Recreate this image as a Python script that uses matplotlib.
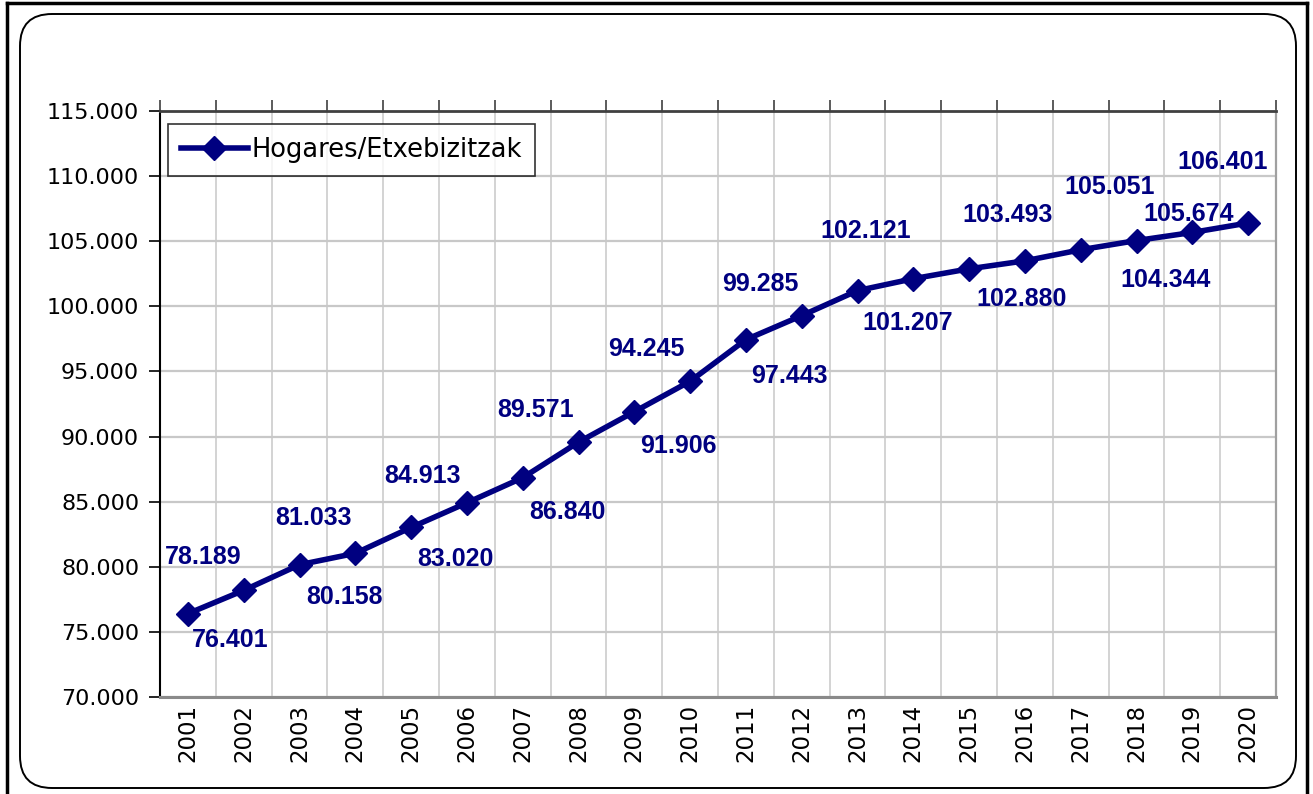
import numpy as np
import matplotlib
matplotlib.use("Agg")
import matplotlib.pyplot as plt
import matplotlib.patches as mpatches
from matplotlib.lines import Line2D
from matplotlib.ticker import FuncFormatter, MultipleLocator

plt.rcParams['font.family'] = ['DejaVu Sans']

years = [str(y) for y in range(2001, 2021)]
hogares = [76401, 78189, 80158, 81033, 83020, 84913, 86840, 89571, 91906, 94245,
           97443, 99285, 101207, 102121, 102880, 103493, 104344, 105051, 105674, 106401]
series_name = "Hogares/Etxebizitzak"

# where each data label sits relative to its point (pixels, y up)
label_offsets = [(42, -26), (-41, 33), (45, -32), (-42, 35), (44, -32),
                 (-44, 27), (45, -34), (-43, 32), (44, -34), (-44, 32),
                 (43, -36), (-41, 32), (50, -32), (-48, 48), (52, -30),
                 (-17, 46), (85, -30), (-27, 54), (-4, 18), (-25, 61)]

navy = '#000080'
W, H = 1313, 794
fig = plt.figure(figsize=(W / 100, H / 100), dpi=100)
ax = fig.add_axes([160 / W, 1 - 697 / H, 1116 / W, 586 / H])

x = np.arange(len(years))
ax.plot(x, hogares, color=navy, lw=4, marker='D', markersize=12, label=series_name,
        solid_joinstyle='miter', zorder=5, clip_on=False)

for i, v in enumerate(hogares):
    ax.annotate(f"{v:,}".replace(",", "."), (x[i], v), xytext=label_offsets[i],
                textcoords='offset pixels', ha='center', va='center',
                fontsize=18, fontweight='bold', color=navy, zorder=6,
                family='Liberation Sans')

ax.set_xlim(-0.5, len(years) - 0.5)
ax.set_ylim(70000, 115000)
ax.yaxis.set_major_locator(MultipleLocator(5000))
ax.yaxis.set_major_formatter(FuncFormatter(lambda v, p: f"{int(v):,}".replace(",", ".")))
ax.set_xticks(x)
ax.set_xticklabels(years, rotation=90, fontsize=16.5)
ax.set_xticks(np.arange(-0.5, len(years), 0.5), minor=True)
ax.tick_params(axis='x', which='both', length=0, pad=5)
ax.tick_params(axis='y', length=8, width=1.2, labelsize=16, pad=7, color='black')

ax.grid(axis='x', which='minor', color='#c8c8c8', lw=1.1)
ax.grid(axis='y', which='major', color='#c8c8c8', lw=1.6)
ax.set_axisbelow(True)

ax.spines['left'].set_color('black')
ax.spines['left'].set_linewidth(1.5)
ax.spines['top'].set_color('#404040')
ax.spines['top'].set_linewidth(2)
ax.spines['bottom'].set_color('#8a8a8a')
ax.spines['bottom'].set_linewidth(2.2)
ax.spines['right'].set_color('#a0a0a0')
ax.spines['right'].set_linewidth(1.6)

# tick marks above the top edge at category boundaries
top = ax.secondary_xaxis('top')
top.set_xticks(np.arange(-0.5, len(years), 1.0))
top.tick_params(length=8, width=1.2, color='#404040', labeltop=False)
top.spines['top'].set_visible(False)

leg = ax.legend(loc='upper left', bbox_to_anchor=(8 / 1116, 1 - 13 / 586),
                borderaxespad=0, fontsize=18.5, frameon=True, fancybox=False,
                edgecolor='black', handlelength=2.6, handletextpad=0.15,
                borderpad=0.5)
leg.get_frame().set_linewidth(1.2)

# rounded chart area frame and the outer page border
box = mpatches.FancyBboxPatch((20, 6), 1276, 774, boxstyle='round,pad=0,rounding_size=32',
                              transform=None, facecolor='none', edgecolor='black', lw=1.4)
fig.patches.append(box)
for xs, ys in [([7 / W, 7 / W], [0, 1 - 3 / H]), ([1307 / W, 1307 / W], [0, 1 - 3 / H]),
               ([7 / W, 1307 / W], [1 - 3 / H, 1 - 3 / H])]:
    fig.add_artist(Line2D(xs, ys, color='black', lw=2.5))

fig.savefig('out.png', dpi=100)
